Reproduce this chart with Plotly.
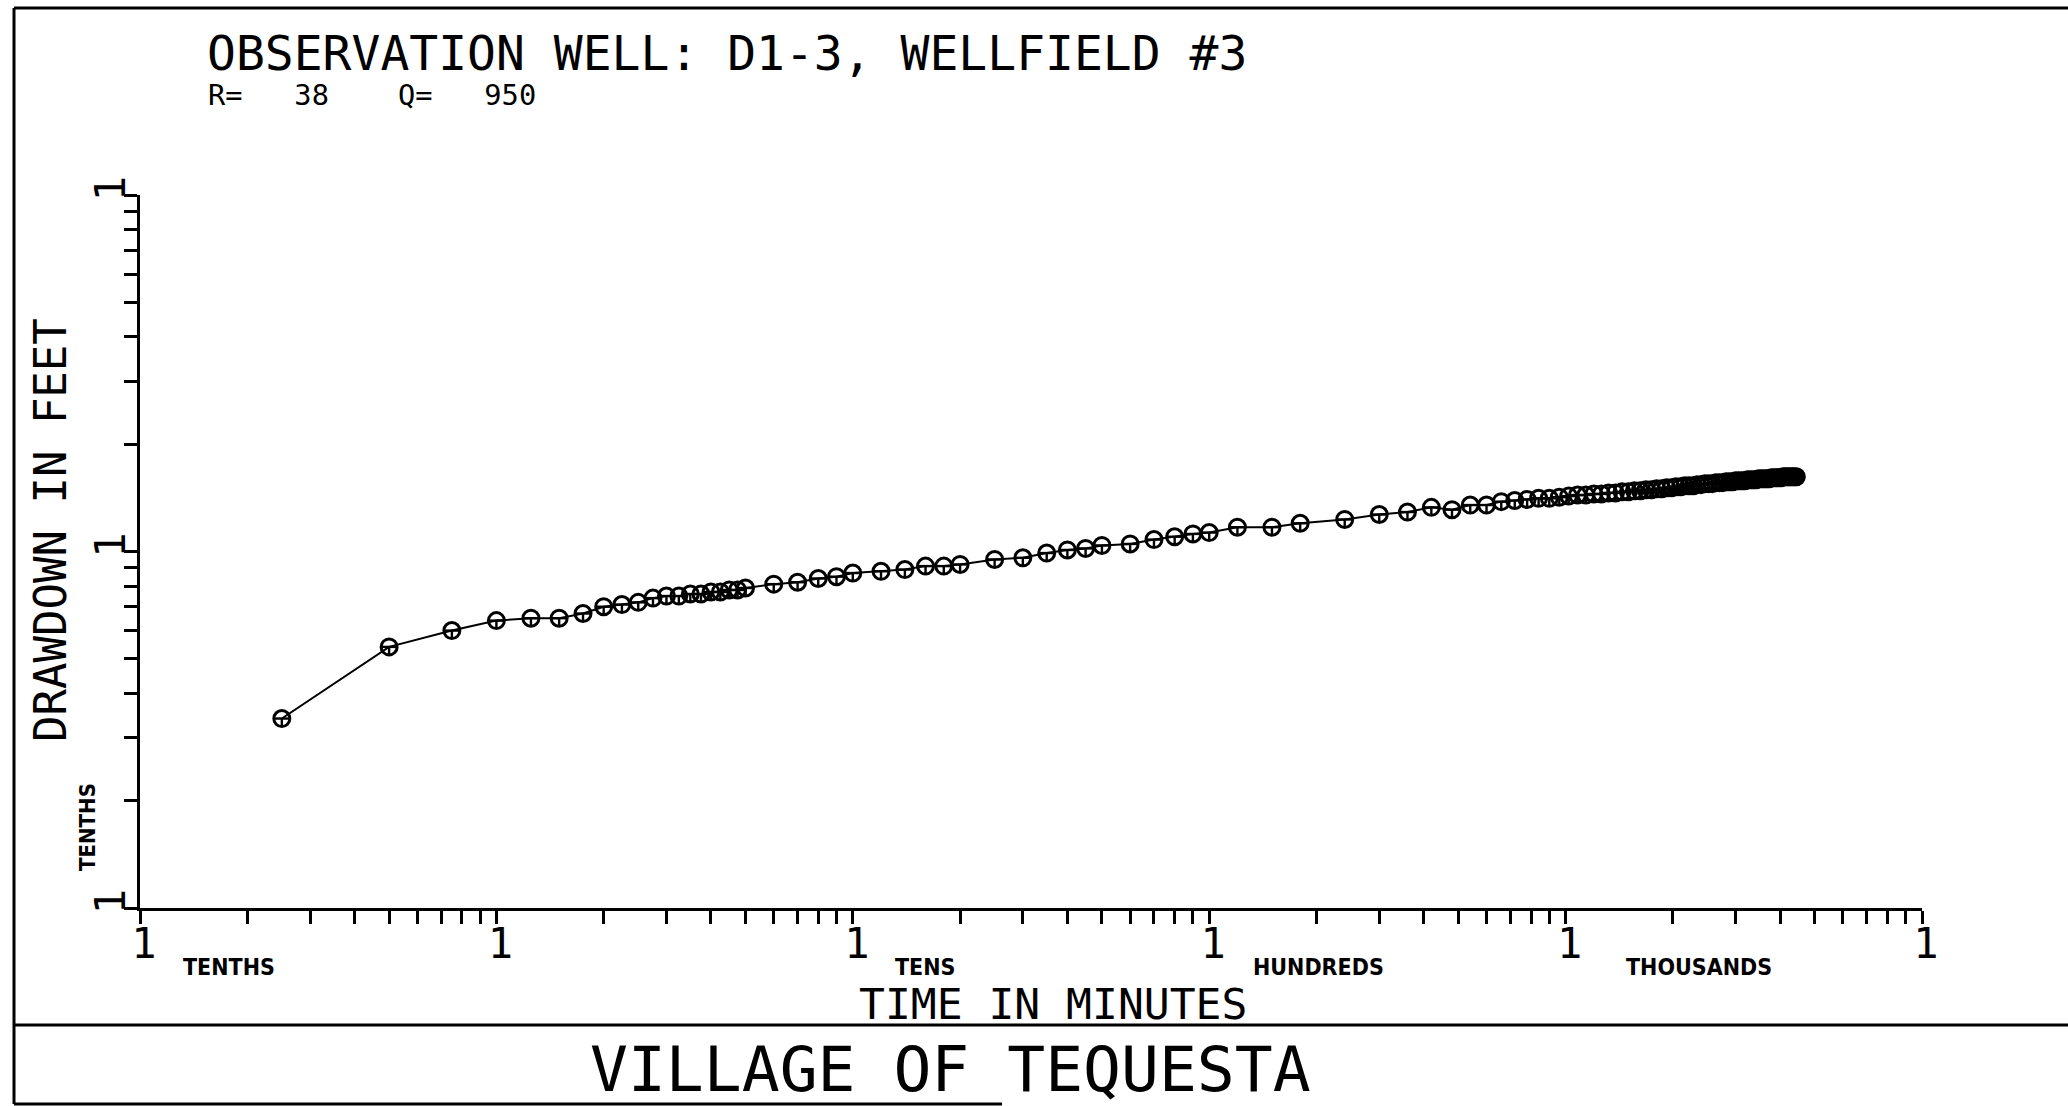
import math
import plotly.graph_objects as go

# ---- page geometry (pixels) ----
W, H = 2068, 1106
ML, MR, MT, MB = 140, 146, 195, 198

# ---- pumping test record: elapsed time (minutes) and drawdown (feet) ----
time_min = [
    0.25, 0.5, 0.75, 1, 1.25, 1.5, 1.75, 2, 2.25, 2.5, 2.75, 3, 3.25, 3.5, 3.75,
    4, 4.25, 4.5, 4.75, 5,
    6, 7, 8, 9, 10, 12, 14, 16, 18, 20, 25, 30, 35, 40, 45, 50,
    60, 70, 80, 90, 100, 120, 150, 180, 240, 300, 360, 420, 480, 540, 600,
    660, 720, 780, 840, 900, 960, 1020, 1080, 1140, 1200, 1260, 1320, 1380,
    1440, 1500, 1560, 1620, 1680, 1740, 1800, 1860, 1920, 1980, 2040, 2100,
    2160, 2220, 2280, 2340, 2400, 2460, 2520, 2580, 2640, 2700, 2760, 2820,
    2880, 2940, 3000, 3060, 3120, 3180, 3240, 3300, 3360, 3420, 3480, 3540,
    3600, 3660, 3720, 3780, 3840, 3900, 3960, 4020, 4080, 4140, 4200, 4260,
    4320, 4380, 4440,
]
drawdown_ft = [
    0.34, 0.54, 0.60, 0.64, 0.65, 0.65, 0.67, 0.70, 0.71, 0.72, 0.74, 0.75, 0.75, 0.76, 0.76,
    0.77, 0.77, 0.78, 0.78, 0.79,
    0.81, 0.82, 0.84, 0.85, 0.87, 0.88, 0.89, 0.91, 0.91, 0.92, 0.95, 0.96, 0.99, 1.01, 1.02, 1.04,
    1.05, 1.08, 1.10, 1.12, 1.13, 1.17, 1.17, 1.20, 1.23, 1.27, 1.29, 1.33, 1.31, 1.35, 1.35,
    1.38, 1.39, 1.40, 1.41, 1.41, 1.42, 1.43, 1.44, 1.44, 1.45, 1.45, 1.46, 1.46,
    1.47, 1.47, 1.48, 1.48, 1.49, 1.49, 1.50, 1.50, 1.51, 1.51, 1.52, 1.52,
    1.53, 1.53, 1.53, 1.54, 1.54, 1.55, 1.55, 1.55, 1.56, 1.56, 1.56, 1.57,
    1.57, 1.57, 1.58, 1.58, 1.58, 1.58, 1.59, 1.59, 1.59, 1.59, 1.60, 1.60,
    1.60, 1.60, 1.60, 1.61, 1.61, 1.61, 1.61, 1.61, 1.62, 1.62, 1.62, 1.62,
    1.62, 1.62, 1.62,
]

# ---- text ----
title_text = "OBSERVATION WELL: D1-3, WELLFIELD #3"
NB = "\u00a0"
param_text = "R=" + NB * 3 + "38" + NB * 4 + "Q=" + NB * 3 + "950"
y_title = "DRAWDOWN IN FEET"
x_title = "TIME IN MINUTES"
footer_text = "VILLAGE OF TEQUESTA"
x_decade_names = ["TENTHS", "TENS", "HUNDREDS", "THOUSANDS"]
x_decade_starts = [0.1, 10, 100, 1000]
x_name_offsets = [41, 40, 42, 58]
y_decade_name = "TENTHS"

MONO = "DejaVu Sans Mono"
NARROW = "DejaVu Sans Condensed, DejaVu Sans"


def px_x(p):
    return (p - ML) / (W - ML - MR)


def px_y(p):
    return (H - MB - p) / (H - MT - MB)


# log-cycle ticks: every integer multiple inside each decade, "1" at each decade
def cycle_ticks(lo_exp, hi_exp):
    vals, text = [], []
    for e in range(lo_exp, hi_exp):
        for m in range(1, 10):
            vals.append(m * 10.0 ** e)
            text.append("1" if m == 1 else "")
    vals.append(10.0 ** hi_exp)
    text.append("1")
    return vals, text


xt_vals, xt_text = cycle_ticks(-1, 4)
yt_vals, yt_text = cycle_ticks(-1, 1)

MSIZE = 16
fig = go.Figure()

# connecting line with open circles
fig.add_trace(go.Scatter(
    x=time_min, y=drawdown_ft, mode="lines+markers",
    line=dict(color="black", width=2),
    marker=dict(symbol="circle-open", size=MSIZE, color="black",
                line=dict(color="black", width=3)),
    hoverinfo="skip",
))
# horizontal bar through each circle
fig.add_trace(go.Scatter(
    x=time_min, y=drawdown_ft, mode="markers",
    marker=dict(symbol="line-ew", size=MSIZE / 1.4, color="black",
                line=dict(color="black", width=2.4)),
    hoverinfo="skip",
))
# short upright stroke in the upper half of each circle
fig.add_trace(go.Scatter(
    x=time_min, y=drawdown_ft, mode="markers",
    marker=dict(symbol="line-ns", size=MSIZE / 2.8, angle=0, standoff=MSIZE / 4,
                color="black", line=dict(color="black", width=2.4)),
    hoverinfo="skip",
))

axis_common = dict(
    type="log", showgrid=False, zeroline=False,
    showline=True, linecolor="black", linewidth=3,
    ticks="outside", ticklen=13, tickwidth=2.5, tickcolor="black",
    tickfont=dict(family=MONO, size=42, color="black"),
    fixedrange=True, tickmode="array",
)

fig.update_layout(
    width=W, height=H,
    margin=dict(l=ML, r=MR, t=MT, b=MB, autoexpand=False),
    paper_bgcolor="white", plot_bgcolor="white",
    showlegend=False,
    xaxis=dict(range=[-1, 4], tickvals=xt_vals, ticktext=xt_text,
               tickangle=0, ticklabelstandoff=-16, ticklabelshift=4, **axis_common),
    yaxis=dict(range=[-1, 1], tickvals=yt_vals, ticktext=yt_text,
               tickangle=-90, ticklabelstandoff=-18, **axis_common),
)

ann = []
ann.append(dict(text=title_text, xref="paper", yref="paper", x=px_x(205), y=px_y(53),
                xanchor="left", yanchor="middle", showarrow=False,
                font=dict(family=MONO, size=48, color="black")))
ann.append(dict(text=param_text, xref="paper", yref="paper", x=px_x(206), y=px_y(95),
                xanchor="left", yanchor="middle", showarrow=False,
                font=dict(family=MONO, size=28.7, color="black")))
ann.append(dict(text=y_title, xref="paper", yref="paper", x=px_x(50), y=px_y(530),
                xanchor="center", yanchor="middle", textangle=-90, showarrow=False,
                font=dict(family=MONO, size=44, color="black")))
ann.append(dict(text=y_decade_name, xref="paper", yref="paper", x=px_x(87), y=px_y(827),
                xanchor="center", yanchor="middle", textangle=-90, showarrow=False,
                font=dict(family=NARROW, size=22, color="black", weight="bold")))
for name, start, shift in zip(x_decade_names, x_decade_starts, x_name_offsets):
    ann.append(dict(text=name, xref="x", yref="paper", x=math.log10(start), y=px_y(967),
                    xshift=shift, xanchor="left", yanchor="middle", showarrow=False,
                    font=dict(family=NARROW, size=23, color="black", weight="bold")))
ann.append(dict(text=x_title, xref="paper", yref="paper", x=px_x(1053), y=px_y(1004),
                xanchor="center", yanchor="middle", showarrow=False,
                font=dict(family=MONO, size=43, color="black")))
ann.append(dict(text=footer_text, xref="paper", yref="paper", x=px_x(950), y=px_y(1069),
                xanchor="center", yanchor="middle", showarrow=False,
                font=dict(family=MONO, size=63, color="black")))
fig.update_layout(annotations=ann)

# sheet frame: top rule, left rule, title-block divider and bottom rule
frame = [
    ((14, 8), (W, 8)),
    ((14, 8), (14, 1104)),
    ((14, 1025), (W, 1025)),
    ((14, 1104), (1002, 1104)),
]
for (x0, y0), (x1, y1) in frame:
    fig.add_shape(type="line", xref="paper", yref="paper",
                  x0=px_x(x0), y0=px_y(y0), x1=px_x(x1), y1=px_y(y1),
                  line=dict(color="black", width=3))

fig.write_html("out.html")
